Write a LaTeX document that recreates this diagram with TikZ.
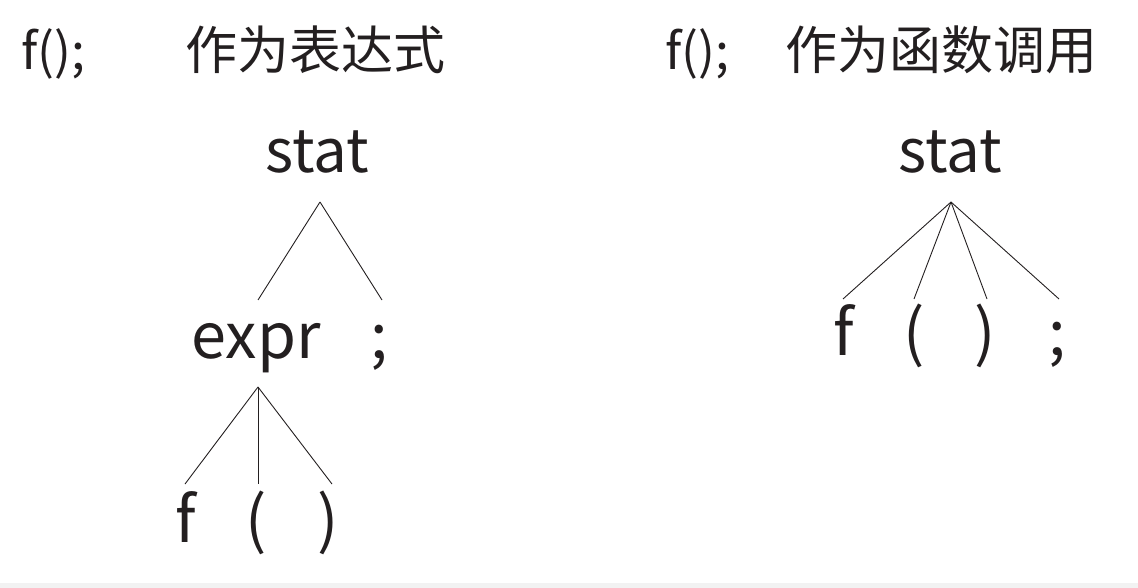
\documentclass[tikz,border=0pt]{standalone}
\usepackage{fontspec}
\setmainfont{Noto Sans CJK SC}
\definecolor{ink}{HTML}{231F20}
\definecolor{band}{HTML}{F2F2F2}
\begin{document}
\begin{tikzpicture}[x=1pt,y=-1pt,
  tok/.style={inner sep=0pt, anchor=base, text=ink},
  head/.style={tok, font=\fontsize{50}{60}\selectfont},
  cjk/.style={tok, font=\fontsize{52}{62}\selectfont},
  big/.style={tok, font=\fontsize{63}{72}\selectfont},
  root/.style={tok, font=\fontsize{60}{70}\selectfont},
  edge/.style={draw=ink, line width=0.9pt}]
\useasboundingbox (0,0) rectangle (1138,588);
\fill[band] (0,583) rectangle (1138,588);
% headers
\node[head] (h1) at (53,70) {f();};
\node[cjk]  (h2) at (315,70) {作为表达式};
\node[head] (h3) at (697,70) {f();};
\node[cjk]  (h4) at (941,70) {作为函数调用};
% left tree
\node[root] (s1) at (317,173) {stat};
\node[big] (e1) at (256,358) {expr};
\node[big] (c1) at (379,358) {;};
\node[big] (f1) at (186,542) {f};
\node[big] (l1) at (256,542) {(};
\node[big] (r1) at (328,542) {)};
\draw[edge] ([xshift=3pt,yshift=-29pt]s1.base) -- ([xshift=2pt,yshift=58pt]e1.base);
\draw[edge] ([xshift=3pt,yshift=-29pt]s1.base) -- ([xshift=3pt,yshift=58pt]c1.base);
\draw[edge] ([xshift=2pt,yshift=-29pt]e1.base) -- ([xshift=-1pt,yshift=58pt]f1.base);
\draw[edge] ([xshift=2pt,yshift=-29pt]e1.base) -- ([xshift=2pt,yshift=58pt]l1.base);
\draw[edge] ([xshift=2pt,yshift=-29pt]e1.base) -- ([xshift=4pt,yshift=58pt]r1.base);
% right tree
\node[root] (s2) at (950,173) {stat};
\node[big] (f2) at (844,355) {f};
\node[big] (l2) at (914,355) {(};
\node[big] (r2) at (985,355) {)};
\node[big] (c2) at (1057,355) {;};
\draw[edge] ([xshift=1pt,yshift=-29pt]s2.base) -- ([xshift=-1pt,yshift=56pt]f2.base);
\draw[edge] ([xshift=1pt,yshift=-29pt]s2.base) -- ([xshift=0pt,yshift=56pt]l2.base);
\draw[edge] ([xshift=1pt,yshift=-29pt]s2.base) -- ([xshift=2pt,yshift=56pt]r2.base);
\draw[edge] ([xshift=1pt,yshift=-29pt]s2.base) -- ([xshift=2pt,yshift=56pt]c2.base);
\end{tikzpicture}
\end{document}
